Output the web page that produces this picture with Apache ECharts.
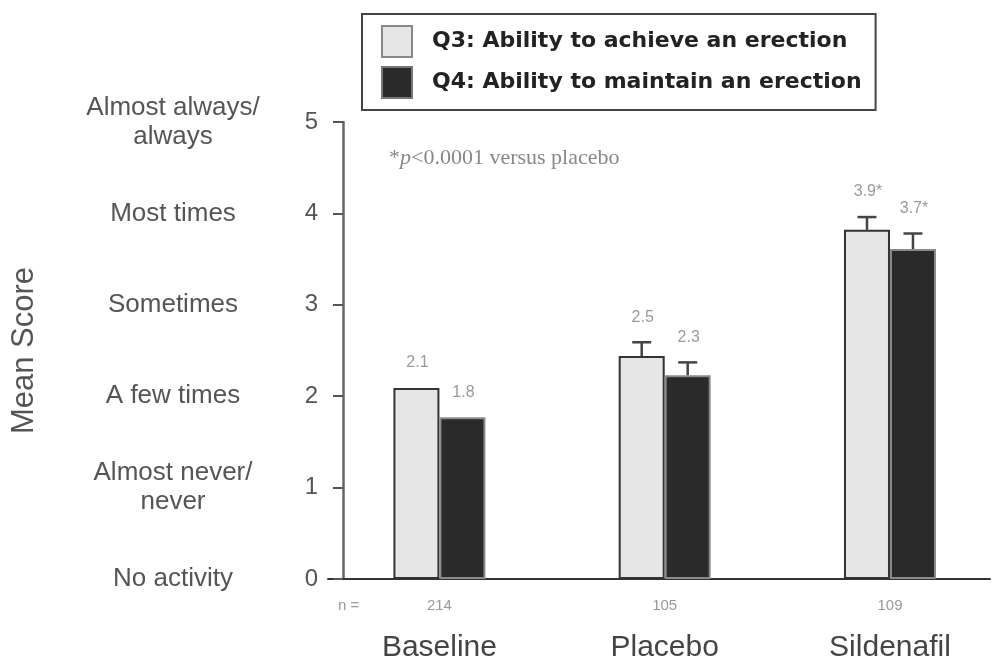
<!DOCTYPE html>
<html>
<head>
<meta charset="utf-8">
<script src="https://cdn.jsdelivr.net/npm/echarts@6/dist/echarts.min.js"></script>
<style>html,body{margin:0;padding:0;background:#fff;}#c{width:994px;height:657px;}</style>
</head>
<body>
<div id="c"></div>
<script>
const categories = ['Baseline', 'Placebo', 'Sildenafil'];
const nCounts = ['214', '105', '109'];
const q3Means = [2.09, 2.44, 3.82];
const q4Means = [1.77, 2.23, 3.61];
const q3ErrTop = [null, 2.59, 3.96];
const q4ErrTop = [null, 2.37, 3.78];
const q3Labels = ['2.1', '2.5', '3.9*'];
const q4Labels = ['1.8', '2.3', '3.7*'];
const yScoreLabels = ['No activity', 'Almost never/\nnever', 'A few times', 'Sometimes', 'Most times', 'Almost always/\nalways'];
const q3Name = 'Q3: Ability to achieve an erection';
const q4Name = 'Q4: Ability to maintain an erection';

const chart = echarts.init(document.getElementById('c'), null, {renderer: 'canvas'});

function barData(vals) { return vals.map((v, i) => [i, v]); }
function errData(vals, errs) { return vals.map((v, i) => [i, v, errs[i] == null ? NaN : errs[i]]); }

function errRenderer(offset, labels) {
  return function (params, api) {
    const i = api.value(0), v = api.value(1), e = api.value(2);
    const p = api.coord([i, v]);
    const x = p[0] + offset;
    let topY = p[1];
    const children = [];
    if (!isNaN(e)) {
      const pe = api.coord([i, e]);
      children.push({type: 'line', shape: {x1: x, y1: p[1], x2: x, y2: pe[1]}, style: {stroke: '#444', lineWidth: 2.5}});
      children.push({type: 'line', shape: {x1: x - 9.5, y1: pe[1], x2: x + 9.5, y2: pe[1]}, style: {stroke: '#444', lineWidth: 2.5}});
      topY = pe[1];
    }
    children.push({type: 'text', style: {text: labels[params.dataIndex], x: x + 1, y: topY - 25, align: 'center', verticalAlign: 'middle', fill: '#9a9a9a', font: '16px "Liberation Sans", Arial, sans-serif'}});
    return {type: 'group', children: children};
  };
}

const serif = '"Liberation Serif", "Times New Roman", serif';
const sans = '"Liberation Sans", Arial, sans-serif';

const option = {
  backgroundColor: '#fff',
  animation: false,
  title: {
    left: 384, top: 142,
    text: '{a|*}{i|p}{a|<0.0001 versus placebo}',
    textStyle: {
      fontWeight: 'normal',
      rich: {
        a: {fontFamily: serif, fontSize: 22, color: '#888', fontWeight: 'normal'},
        i: {fontFamily: serif, fontSize: 22, color: '#888', fontWeight: 'normal', fontStyle: 'italic'}
      }
    }
  },
  legend: {
    left: 362, top: 14,
    orient: 'vertical',
    itemWidth: 30, itemHeight: 31, itemGap: 8,
    padding: [11, 14, 11, 19],
    backgroundColor: '#fff',
    borderColor: '#444', borderWidth: 2,
    textStyle: {fontFamily: '"DejaVu Sans", sans-serif', fontWeight: 'bold', fontSize: 22, color: '#222', padding: [0, 0, 0, 15]},
    data: [
      {name: q3Name, icon: 'rect', itemStyle: {color: '#e6e6e6', borderColor: '#888', borderWidth: 2}},
      {name: q4Name, icon: 'rect', itemStyle: {color: '#2a2a2a', borderColor: '#777', borderWidth: 2}}
    ]
  },
  grid: {left: 328, right: 4, top: 122, bottom: 78, containLabel: false, outerBoundsMode: 'none'},
  xAxis: {
    type: 'value',
    min: -0.4946, max: 2.444,
    axisLine: {show: true, onZero: false, lineStyle: {color: '#333', width: 2}},
    axisTick: {show: false},
    splitLine: {show: false},
    axisLabel: {
      customValues: [0, 1, 2],
      margin: 15,
      formatter: function (val) { const i = Math.round(val); return '{n|' + nCounts[i] + '}\n{c|' + categories[i] + '}'; },
      rich: {
        n: {fontFamily: sans, fontSize: 15, color: '#999', lineHeight: 24, align: 'center'},
        c: {fontFamily: sans, fontSize: 30, color: '#444', lineHeight: 60, align: 'center'}
      }
    }
  },
  yAxis: [
    {
      type: 'value', position: 'left', min: 0, max: 5, interval: 1, offset: -15,
      axisLine: {show: true, onZero: false, lineStyle: {color: '#666', width: 2.5}},
      axisTick: {show: true, inside: false, length: 10, lineStyle: {color: '#555', width: 2}},
      splitLine: {show: false},
      axisLabel: {margin: 25, fontFamily: sans, fontSize: 24, color: '#555'},
      name: 'Mean Score', nameLocation: 'middle', nameGap: 303, nameRotate: 90,
      nameTextStyle: {fontFamily: sans, fontSize: 31, color: '#555'}
    },
    {
      type: 'value', position: 'left', min: 0, max: 5, interval: 1, offset: -15,
      axisLine: {show: false, onZero: false}, axisTick: {show: false}, splitLine: {show: false},
      axisLabel: {
        margin: 170, align: 'center', lineHeight: 29,
        fontFamily: sans, fontSize: 26, color: '#555',
        formatter: function (val) { return yScoreLabels[Math.round(val)]; }
      }
    }
  ],
  series: [
    {
      name: q3Name, type: 'bar', data: barData(q3Means), barWidth: 46, barGap: '0%',
      itemStyle: {color: '#e6e6e6', borderColor: '#333', borderWidth: 2}
    },
    {
      name: q4Name, type: 'bar', data: barData(q4Means), barWidth: 46, barGap: '0%',
      itemStyle: {color: '#2a2a2a', borderColor: '#8a8a8a', borderWidth: 2}
    },
    {
      name: 'Q3 error', type: 'custom', data: errData(q3Means, q3ErrTop), renderItem: errRenderer(-23, q3Labels),
      encode: {x: 0, y: 1}, z: 5, silent: true
    },
    {
      name: 'Q4 error', type: 'custom', data: errData(q4Means, q4ErrTop), renderItem: errRenderer(23, q4Labels),
      encode: {x: 0, y: 1}, z: 5, silent: true
    }
  ],
  graphic: [
    {type: 'text', left: 338, top: 598, style: {text: 'n =', font: '15px "Liberation Sans", Arial, sans-serif', fill: '#999'}}
  ]
};
chart.setOption(option);
</script>
</body>
</html>
